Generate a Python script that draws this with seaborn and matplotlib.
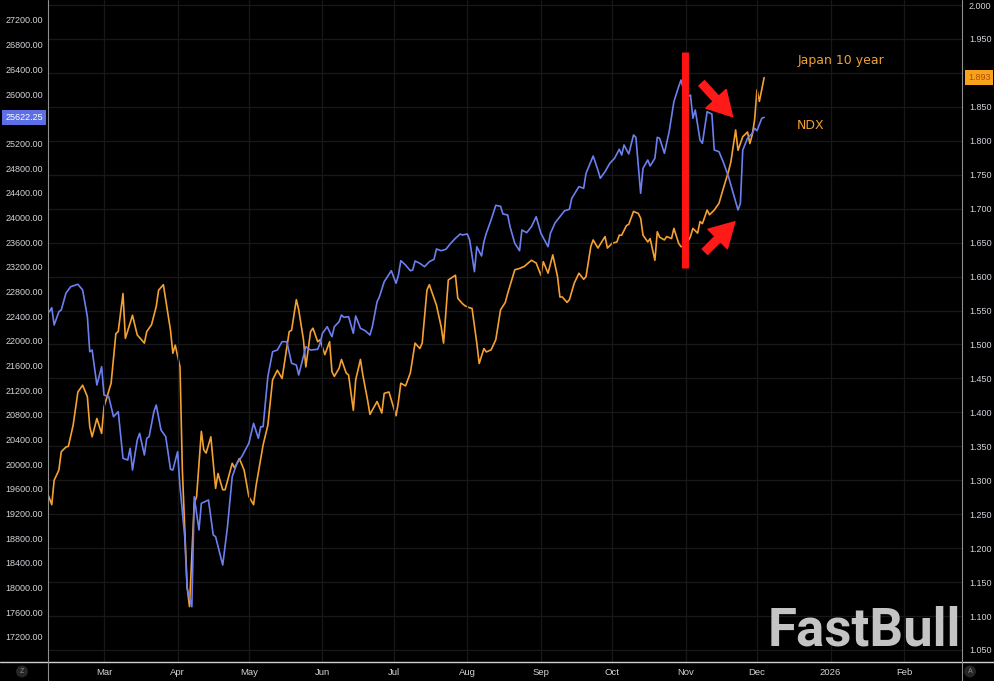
import numpy as np
import pandas as pd
import matplotlib.pyplot as plt
import matplotlib.dates as mdates
from matplotlib.lines import Line2D
import seaborn as sns

# NDX, left scale (2025)
ndx_dates = ['02-06', '02-07', '02-08', '02-10', '02-11', '02-13', '02-15', '02-18', '02-20', '02-22', '02-23', '02-24', '02-26', '02-28',
             '03-01', '03-03', '03-05', '03-07', '03-09', '03-11', '03-12', '03-13', '03-15', '03-16', '03-18', '03-19', '03-20', '03-22', '03-23', '03-25', '03-27', '03-29', '03-30',
             '04-01', '04-02', '04-04', '04-05', '04-07', '04-08', '04-10', '04-11', '04-14', '04-16', '04-17', '04-20', '04-22', '04-24', '04-26', '04-28',
             '05-01', '05-03', '05-05', '05-06', '05-07', '05-09', '05-11', '05-13', '05-15', '05-17', '05-19', '05-21', '05-22', '05-25', '05-27', '05-30', '05-31',
             '06-01', '06-03', '06-05', '06-06', '06-08', '06-09', '06-10', '06-12', '06-14', '06-15', '06-17', '06-19', '06-21', '06-22', '06-24', '06-25', '06-27', '06-30',
             '07-02', '07-03', '07-04', '07-06', '07-08', '07-09', '07-10', '07-12', '07-14', '07-16', '07-18', '07-19', '07-21', '07-23', '07-25', '07-27', '07-29', '07-30',
             '08-01', '08-02', '08-04', '08-05', '08-07', '08-08', '08-09', '08-11', '08-13', '08-15', '08-16', '08-18', '08-19', '08-21', '08-23', '08-24', '08-26', '08-28', '08-30',
             '09-01', '09-04', '09-05', '09-07', '09-09', '09-11', '09-13', '09-14', '09-17', '09-19', '09-20', '09-23', '09-25', '09-26', '09-28', '09-30',
             '10-02', '10-04', '10-05', '10-06', '10-08', '10-10', '10-11', '10-13', '10-14', '10-16', '10-17', '10-19', '10-20', '10-21', '10-23', '10-25', '10-27', '10-29', '10-30',
             '11-01', '11-03', '11-04', '11-05', '11-07', '11-08', '11-10', '11-12', '11-13', '11-15', '11-17', '11-19', '11-21', '11-23', '11-24', '11-25', '11-27', '11-29', '11-30',
             '12-01', '12-03', '12-04']
ndx_values = [22470, 22536, 22256, 22471, 22499, 22775, 22877, 22916, 22823, 22390, 21823, 21850, 21283, 21580,
              21121, 21094, 20769, 20850, 20095, 20067, 20257, 19905, 20392, 20500, 20148, 20419, 20445, 20850, 20959, 20554, 20445, 19917, 19905,
              20202, 19635, 18824, 17988, 17689, 19472, 18933, 19365, 19419, 18852, 18824, 18365, 18986, 19797, 20014, 20121,
              20338, 20662, 20419, 20607, 20607, 21418, 21823, 21850, 21985, 21985, 21635, 21607, 21445, 21904, 21850, 21862, 21959,
              22121, 22228, 22066, 22228, 22309, 22418, 22381, 22390, 22121, 22402, 22202, 22163, 22094, 22228, 22633, 22714, 22958, 23136,
              22932, 23066, 23298, 23228, 23136, 23147, 23293, 23256, 23201, 23282, 23321, 23488, 23460, 23483, 23580, 23661, 23731, 23715,
              23731, 23634, 23120, 23525, 23374, 23606, 23742, 23958, 24196, 24180, 24055, 24039, 23849, 23580, 23460, 23796, 23752, 23849, 24011,
              23742, 23525, 23742, 23914, 24011, 24109, 24131, 24310, 24498, 24472, 24715, 24995, 24768, 24634, 24741, 24877,
              24958, 25104, 25011, 25174, 25028, 25336, 25298, 24391, 24796, 24930, 24833, 24958, 25298, 25282, 25039, 25389, 25875, 26119, 26227,
              25931, 25984, 25606, 25741, 25255, 25201, 25713, 25676, 25092, 25065, 24877, 24660, 24391, 24120, 24228, 25092, 25282, 25363, 25444,
              25405, 25606, 25622.25]

# Japan 10 year yield, right scale
jgb_dates = ['02-05', '02-07', '02-08', '02-10', '02-11', '02-13', '02-14', '02-16', '02-18', '02-20', '02-22', '02-23', '02-24', '02-26', '02-28',
             '03-01', '03-04', '03-06', '03-07', '03-09', '03-10', '03-13', '03-15', '03-18', '03-19', '03-21', '03-23', '03-24', '03-26', '03-27', '03-29', '03-30', '03-31',
             '04-02', '04-03', '04-05', '04-06', '04-08', '04-09', '04-11', '04-12', '04-13', '04-15', '04-17', '04-18', '04-20', '04-21', '04-24', '04-25', '04-27', '04-29',
             '05-01', '05-03', '05-04', '05-07', '05-09', '05-11', '05-13', '05-15', '05-18', '05-19', '05-21', '05-22', '05-24', '05-25', '05-27', '05-28', '05-30', '05-31',
             '06-02', '06-04', '06-05', '06-06', '06-08', '06-09', '06-11', '06-12', '06-14', '06-15', '06-17', '06-18', '06-20', '06-21', '06-24', '06-26', '06-27', '06-29',
             '07-02', '07-03', '07-04', '07-06', '07-08', '07-10', '07-12', '07-13', '07-15', '07-16', '07-19', '07-21', '07-22', '07-24', '07-27', '07-28', '07-30', '07-31',
             '08-02', '08-03', '08-05', '08-06', '08-08', '08-09', '08-11', '08-13', '08-15', '08-17', '08-18', '08-21', '08-23', '08-25', '08-28', '08-30',
             '09-01', '09-02', '09-04', '09-06', '09-08', '09-09', '09-10', '09-12', '09-13', '09-15', '09-17', '09-19', '09-20', '09-22', '09-23', '09-25', '09-28', '09-29',
             '10-01', '10-03', '10-04', '10-05', '10-07', '10-08', '10-10', '10-12', '10-13', '10-14', '10-16', '10-17', '10-19', '10-20', '10-21', '10-23', '10-24', '10-26', '10-27', '10-29', '10-30',
             '11-01', '11-03', '11-04', '11-06', '11-07', '11-08', '11-10', '11-11', '11-13', '11-15', '11-17', '11-19', '11-20', '11-22', '11-23', '11-25', '11-27', '11-28', '11-29', '11-30',
             '12-01', '12-02', '12-04']
jgb_values = [1.283, 1.264, 1.300, 1.315, 1.342, 1.349, 1.350, 1.381, 1.430, 1.440, 1.423, 1.379, 1.364, 1.391, 1.369,
              1.408, 1.443, 1.516, 1.519, 1.575, 1.509, 1.543, 1.514, 1.502, 1.519, 1.529, 1.556, 1.580, 1.588, 1.566, 1.521, 1.487, 1.499,
              1.467, 1.315, 1.143, 1.114, 1.266, 1.276, 1.372, 1.345, 1.340, 1.364, 1.288, 1.310, 1.286, 1.286, 1.325, 1.318, 1.332, 1.315,
              1.276, 1.264, 1.291, 1.352, 1.381, 1.448, 1.462, 1.450, 1.519, 1.521, 1.566, 1.551, 1.507, 1.467, 1.519, 1.524, 1.504, 1.507,
              1.485, 1.504, 1.460, 1.453, 1.465, 1.478, 1.458, 1.455, 1.403, 1.448, 1.478, 1.455, 1.418, 1.397, 1.416, 1.399, 1.428, 1.430,
              1.395, 1.416, 1.443, 1.439, 1.458, 1.502, 1.494, 1.502, 1.580, 1.588, 1.558, 1.526, 1.502, 1.595, 1.602, 1.568, 1.560, 1.557,
              1.554, 1.553, 1.502, 1.472, 1.494, 1.489, 1.492, 1.507, 1.551, 1.562, 1.575, 1.610, 1.612, 1.615, 1.624, 1.620,
              1.602, 1.622, 1.605, 1.632, 1.600, 1.570, 1.570, 1.562, 1.566, 1.590, 1.605, 1.596, 1.600, 1.644, 1.654, 1.642, 1.659, 1.642,
              1.649, 1.651, 1.661, 1.661, 1.675, 1.677, 1.696, 1.693, 1.686, 1.661, 1.651, 1.656, 1.624, 1.666, 1.658, 1.654, 1.659, 1.656, 1.671, 1.649, 1.644,
              1.646, 1.659, 1.671, 1.664, 1.681, 1.678, 1.698, 1.691, 1.698, 1.708, 1.732, 1.755, 1.769, 1.816, 1.786, 1.806, 1.813, 1.796, 1.809, 1.831,
              1.875, 1.858, 1.893]

month_ticks = ['2025-03-01', '2025-04-01', '2025-05-01', '2025-06-01', '2025-07-01', '2025-08-01',
               '2025-09-01', '2025-10-01', '2025-11-01', '2025-12-01', '2026-01-01', '2026-02-01']
month_labels = ['Mar', 'Apr', 'May', 'Jun', 'Jul', 'Aug', 'Sep', 'Oct', 'Nov', 'Dec', '2026', 'Feb']

ndx_ticks = np.arange(17200, 27201, 400)
jgb_ticks = np.arange(1.05, 2.0001, 0.05)

event_date = '2025-10-31 12:00'

ndx = pd.DataFrame({'date': pd.to_datetime(['2025-' + d for d in ndx_dates]), 'value': ndx_values})
jgb = pd.DataFrame({'date': pd.to_datetime(['2025-' + d for d in jgb_dates]), 'value': jgb_values})

BLUE = '#6c7ff0'
ORANGE = '#f5a132'
TICK = '#d2d4da'
GRID = '#181818'

sns.set_theme(style='dark', rc={'figure.facecolor': 'black', 'axes.facecolor': 'black',
                                'axes.edgecolor': 'black', 'text.color': TICK,
                                'xtick.color': TICK, 'ytick.color': TICK})
plt.rcParams['font.family'] = ['Liberation Sans', 'DejaVu Sans']

fig = plt.figure(figsize=(9.95, 6.81), dpi=100)
ax = fig.add_axes([48 / 995, 19 / 681, 914 / 995, 662 / 681])
ax2 = ax.twinx()
# orange + horizontal grid underneath, blue on top
ax2.set_zorder(ax.get_zorder() - 1)
ax.patch.set_visible(False)
ax2.patch.set_visible(True)
ax2.patch.set_facecolor('black')

sns.lineplot(data=jgb, x='date', y='value', ax=ax2, color=ORANGE, linewidth=1.2)
sns.lineplot(data=ndx, x='date', y='value', ax=ax, color=BLUE, linewidth=1.2)

ax.set_xlim(pd.Timestamp('2025-02-05 10:00'), pd.Timestamp('2026-02-25 08:00'))
ax.set_ylim(16793, 27524)
ax2.set_ylim(1.0323, 2.0074)

# the last-value boxes sit over these two scale labels, as in the original
last_ndx, last_jgb = ndx_values[-1], jgb_values[-1]
ndx_labels = ['' if abs(v - last_ndx) < 100 else f'{v:.2f}' for v in ndx_ticks]
jgb_labels = ['' if abs(v - last_jgb) < 0.012 else f'{v:.3f}' for v in jgb_ticks]

ax.set_xticks(mdates.date2num(pd.to_datetime(month_ticks)))
ax.set_xticklabels(month_labels)
ax.set_yticks(ndx_ticks)
ax.set_yticklabels(ndx_labels)
ax2.set_yticks(jgb_ticks)
ax2.set_yticklabels(jgb_labels)

for a in (ax, ax2):
    a.set_xlabel('')
    a.set_ylabel('')
    for s in a.spines.values():
        s.set_visible(False)

ax.set_axisbelow(True)
ax.grid(True, axis='x', color=GRID, linewidth=0.9)
ax.grid(False, axis='y')
ax2.grid(True, axis='y', color=GRID, linewidth=0.9)

ax.tick_params(axis='y', length=0, pad=3.6, labelsize=6.5, colors=TICK)
ax.tick_params(axis='x', length=0, pad=4.5, labelsize=6.8, colors=TICK)
ax2.tick_params(axis='y', length=0, pad=5, labelsize=6.5, colors=TICK)

# red marker bar and arrows
ax.axvline(mdates.date2num(pd.Timestamp(event_date)), ymin=0.595, ymax=0.921,
           color='#ff1414', linewidth=5, solid_capstyle='butt', zorder=6)
arrow = dict(arrowstyle='simple,head_length=0.8,head_width=0.9,tail_width=0.25',
             color='#ff1a1a', mutation_scale=22, shrinkA=0, shrinkB=0)
ax.annotate('', xy=(0.749, 0.8237), xytext=(0.7152, 0.8742), xycoords='axes fraction', arrowprops=arrow)
ax.annotate('', xy=(0.7516, 0.6651), xytext=(0.7188, 0.6198), xycoords='axes fraction', arrowprops=arrow)

ax.text(0.8676, 0.9079, 'Japan 10 year', transform=ax.transAxes, ha='center', va='center',
        color='#f0a135', fontsize=9, fontweight='medium', family=['DejaVu Sans'])
ax.text(0.8348, 0.8097, 'NDX', transform=ax.transAxes, ha='center', va='center',
        color='#f0a135', fontsize=9, fontweight='medium', family=['DejaVu Sans'])

# last value labels
ax.text(-5 / 914, last_ndx, f'{last_ndx:.2f}', transform=ax.get_yaxis_transform(),
        ha='right', va='center', fontsize=6.5, color='white', clip_on=False, zorder=10,
        bbox=dict(boxstyle='square,pad=0.32', fc='#5d6fe6', ec='none'))
ax2.text(1 + 6 / 914, last_jgb, f'{last_jgb:.3f}', transform=ax2.get_yaxis_transform(),
         ha='left', va='center', fontsize=6.5, color='#b84a00', clip_on=False, zorder=10,
         bbox=dict(boxstyle='square,pad=0.32', fc='#f7a21b', ec='none'))

# frame lines of the chart panel
fig.add_artist(Line2D([0, 1], [19 / 681, 19 / 681], transform=fig.transFigure, color='#d0d0d0', lw=1))
fig.add_artist(Line2D([48 / 995] * 2, [0, 1], transform=fig.transFigure, color='#8f8f8f', lw=0.8))
fig.add_artist(Line2D([962 / 995] * 2, [0, 1], transform=fig.transFigure, color='#8f8f8f', lw=0.8))

fig.text(22 / 995, 9.5 / 681, 'Z', ha='center', va='center', fontsize=5, color='#8a8a8a',
         bbox=dict(boxstyle='circle,pad=0.35', fc='#262626', ec='none'))
fig.text(970 / 995, 9.5 / 681, 'A', ha='center', va='center', fontsize=5, color='#8a8a8a',
         bbox=dict(boxstyle='circle,pad=0.35', fc='#262626', ec='none'))

fig.text(961 / 995, 36 / 681, 'FastBull', ha='right', va='baseline', fontsize=38,
         fontweight='bold', color='#c4c4c4', family=['Roboto', 'DejaVu Sans'])

fig.savefig('out.png', dpi=100, facecolor='black')
